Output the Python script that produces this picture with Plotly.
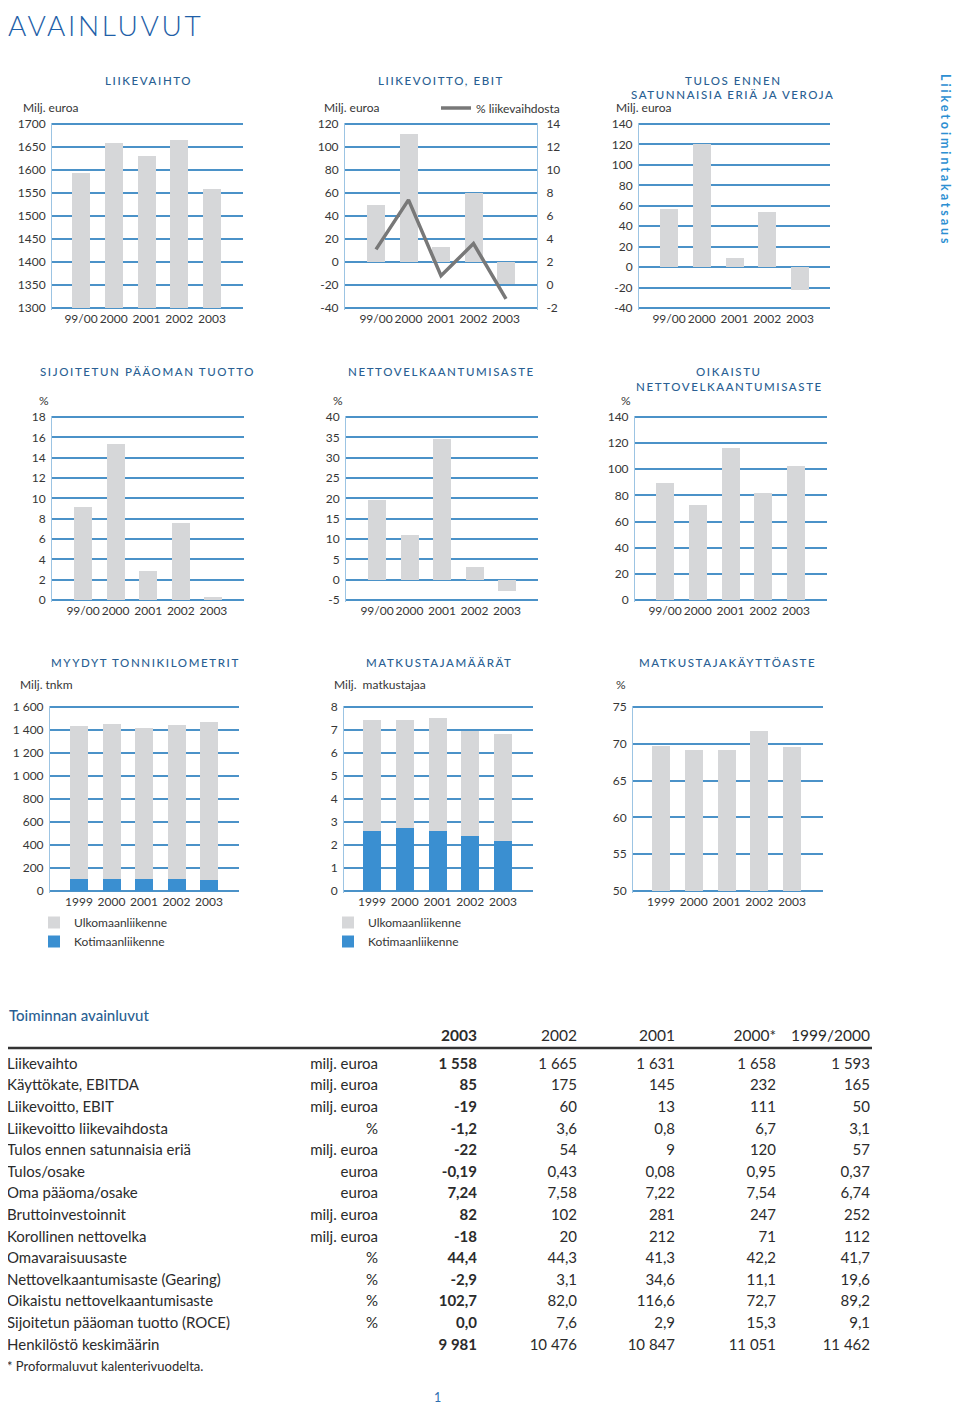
import plotly.graph_objects as go

# page is 960x1415; the browser body adds an 8px margin, so the figure is 16px smaller
OFF = 8
W, H = 960 - 2 * OFF, 1415 - 2 * OFF

# ---------------- data ----------------
cats_fy = ["99/00", "2000", "2001", "2002", "2003"]
cats_cy = ["1999", "2000", "2001", "2002", "2003"]

liikevaihto = [1593, 1658, 1631, 1665, 1558]
ebit = [50, 111, 13, 60, -19]
ebit_pct = [3.1, 7.4, 0.8, 3.6, -1.2]
tulos = [57, 120, 9, 54, -22]
roce = [9.1, 15.3, 2.9, 7.6, 0.3]
gearing = [19.6, 11.1, 34.6, 3.1, -2.9]
oik_gearing = [89.2, 72.7, 116.6, 82.0, 102.7]
tnkm_koti = [107, 107, 107, 107, 93]
tnkm_ulko = [1330, 1345, 1310, 1333, 1376]
matk_koti = [2.63, 2.73, 2.63, 2.37, 2.19]
matk_ulko = [4.80, 4.70, 4.90, 4.60, 4.63]
kayttoaste = [69.7, 69.1, 69.1, 71.7, 69.6]

ticks_lv = [1300, 1350, 1400, 1450, 1500, 1550, 1600, 1650, 1700]
ticks_lv_txt = ["1300", "1350", "1400", "1450", "1500", "1550", "1600", "1650", "1700"]
ticks_ebit = [-40, -20, 0, 20, 40, 60, 80, 100, 120]
ticks_ebit_pct = [-2, 0, 2, 4, 6, 8, 10, 12, 14]
ticks_tulos = [-40, -20, 0, 20, 40, 60, 80, 100, 120, 140]
ticks_roce = [0, 2, 4, 6, 8, 10, 12, 14, 16, 18]
ticks_gear = [-5, 0, 5, 10, 15, 20, 25, 30, 35, 40]
ticks_oik = [0, 20, 40, 60, 80, 100, 120, 140]
ticks_tnkm = [0, 200, 400, 600, 800, 1000, 1200, 1400, 1600]
ticks_tnkm_txt = ["0", "200", "400", "600", "800", "1 000", "1 200", "1 400", "1 600"]
ticks_matk = [0, 1, 2, 3, 4, 5, 6, 7, 8]
ticks_kaytto = [50, 55, 60, 65, 70, 75]

table_labels = ["Liikevaihto", "Käyttökate, EBITDA", "Liikevoitto, EBIT", "Liikevoitto liikevaihdosta",
                "Tulos ennen satunnaisia eriä", "Tulos/osake", "Oma pääoma/osake", "Bruttoinvestoinnit",
                "Korollinen nettovelka", "Omavaraisuusaste", "Nettovelkaantumisaste (Gearing)",
                "Oikaistu nettovelkaantumisaste", "Sijoitetun pääoman tuotto (ROCE)", "Henkilöstö keskimäärin"]
table_units = ["milj. euroa", "milj. euroa", "milj. euroa", "%", "milj. euroa", "euroa", "euroa",
               "milj. euroa", "milj. euroa", "%", "%", "%", "%", ""]
table_years = ["2003", "2002", "2001", "2000*", "1999/2000"]
col_2003 = ["1 558", "85", "-19", "-1,2", "-22", "-0,19", "7,24", "82", "-18", "44,4", "-2,9", "102,7", "0,0", "9 981"]
col_2002 = ["1 665", "175", "60", "3,6", "54", "0,43", "7,58", "102", "20", "44,3", "3,1", "82,0", "7,6", "10 476"]
col_2001 = ["1 631", "145", "13", "0,8", "9", "0,08", "7,22", "281", "212", "41,3", "34,6", "116,6", "2,9", "10 847"]
col_2000 = ["1 658", "232", "111", "6,7", "120", "0,95", "7,54", "247", "71", "42,2", "11,1", "72,7", "15,3", "11 051"]
col_1999 = ["1 593", "165", "50", "3,1", "57", "0,37", "6,74", "252", "112", "41,7", "19,6", "89,2", "9,1", "11 462"]

# ---------------- styles ----------------
FONT = "Lato"
TXT = "#363636"
TITLE_BLUE = "#2a5f93"
GRID_BLUE = "#4b92c8"
AXIS_BLUE = "#9cc4e3"
GREY = "#d6d7d9"
BLUE_BAR = "#3a8fd1"
LINE_GREY = "#787878"


def pxx(x):
    return (x - OFF) / W


def pxy(y):
    return 1 - (y - OFF) / H


# chart frames in page pixels: left, right, top, bottom, first bar centre, bar spacing
frames = [
    dict(L=52, R=243, T=124, B=308, c0=81, s=32.75),
    dict(L=345, R=537, T=124, B=308, c0=376, s=32.5),
    dict(L=639, R=830, T=124, B=308, c0=669, s=32.75),
    dict(L=52, R=244, T=417, B=600, c0=83, s=32.6),
    dict(L=346, R=538, T=417, B=600, c0=377, s=32.5),
    dict(L=635, R=827, T=417, B=600, c0=665, s=32.75),
    dict(L=50, R=239, T=707, B=891, c0=79, s=32.5),
    dict(L=344, R=533, T=707, B=891, c0=372, s=32.75),
    dict(L=633, R=823, T=707, B=891, c0=661, s=32.75),
]
BAR_W_PX = 18

fig = go.Figure()
layout = dict(
    width=W, height=H, autosize=False,
    margin=dict(l=0, r=0, t=0, b=0, pad=0, autoexpand=False),
    paper_bgcolor="white", plot_bgcolor="white",
    barmode="stack", showlegend=True,
    font=dict(family=FONT, color=TXT, size=12),
    annotations=[], shapes=[],
)


def yrange_dom(T, B, lo, hi):
    per_px = (hi - lo) / (B - T)
    pad = 1.5
    rng = [lo - pad * per_px, hi + pad * per_px]
    dom = [pxy(B + pad), pxy(T - pad)]
    return rng, dom


def setup_axes(i, cats, ticks, ticktext=None):
    f = frames[i - 1]
    xr = [(f["L"] - f["c0"]) / f["s"], (f["R"] - f["c0"]) / f["s"]]
    rng, dom = yrange_dom(f["T"], f["B"], ticks[0], ticks[-1])
    sfx = "" if i == 1 else str(i)
    layout["xaxis" + sfx] = dict(
        domain=[pxx(f["L"]), pxx(f["R"])], range=xr, type="category",
        categoryorder="array", categoryarray=cats, automargin=False, tickangle=0,
        anchor="y" + sfx, showgrid=False, zeroline=False, showline=False,
        ticks="", tickfont=dict(size=12, color=TXT, family=FONT), fixedrange=True,
    )
    layout["yaxis" + sfx] = dict(
        domain=dom, range=rng, anchor="x" + sfx, automargin=False,
        tickvals=ticks, ticktext=ticktext if ticktext else [str(t) for t in ticks],
        showgrid=True, gridcolor=GRID_BLUE, gridwidth=2, zeroline=False,
        showline=True, linecolor=AXIS_BLUE, linewidth=1, ticks="",
        tickfont=dict(size=12, color=TXT, family=FONT), fixedrange=True,
        ticklabelstandoff=3,
    )
    return f


def bar_width(i):
    return BAR_W_PX / frames[i - 1]["s"]


def add_bar(i, cats, vals, color=GREY, name=None, legend=None, base=None):
    sfx = "" if i == 1 else str(i)
    fig.add_trace(go.Bar(
        x=cats, y=vals, base=base, xaxis="x" + sfx, yaxis="y" + sfx,
        marker=dict(color=color, line=dict(width=0)), width=bar_width(i),
        name=name or "", showlegend=legend is not None,
        legend=legend if legend else "legend", hoverinfo="x+y",
    ))


# 1 Liikevaihto (bars start from the axis minimum)
setup_axes(1, cats_fy, ticks_lv, ticks_lv_txt)
add_bar(1, cats_fy, [v - ticks_lv[0] for v in liikevaihto], base=[ticks_lv[0]] * 5)
# 2 Liikevoitto EBIT
f2 = setup_axes(2, cats_fy, ticks_ebit)
add_bar(2, cats_fy, ebit)
rng2, dom2 = yrange_dom(f2["T"], f2["B"], ticks_ebit_pct[0], ticks_ebit_pct[-1])
layout["yaxis10"] = dict(
    domain=dom2, range=rng2, overlaying="y2", anchor="x2", side="right", automargin=False,
    tickvals=ticks_ebit_pct, ticktext=[str(t) for t in ticks_ebit_pct],
    showgrid=False, zeroline=False, showline=True, linecolor=AXIS_BLUE, linewidth=1,
    ticks="", tickfont=dict(size=12, color=TXT, family=FONT), fixedrange=True,
    ticklabelstandoff=6,
)
fig.add_trace(go.Scatter(
    x=cats_fy, y=ebit_pct, xaxis="x2", yaxis="y10", mode="lines",
    line=dict(color=LINE_GREY, width=3.5), name="% liikevaihdosta",
    showlegend=True, legend="legend",
))
# 3 Tulos ennen satunnaisia eriä
setup_axes(3, cats_fy, ticks_tulos)
add_bar(3, cats_fy, tulos)
# 4 ROCE
setup_axes(4, cats_fy, ticks_roce)
add_bar(4, cats_fy, roce)
# 5 Nettovelkaantumisaste
setup_axes(5, cats_fy, ticks_gear)
add_bar(5, cats_fy, gearing)
# 6 Oikaistu
setup_axes(6, cats_fy, ticks_oik)
add_bar(6, cats_fy, oik_gearing)
# 7 Tonnikilometrit
setup_axes(7, cats_cy, ticks_tnkm, ticks_tnkm_txt)
add_bar(7, cats_cy, tnkm_koti, BLUE_BAR, "Kotimaanliikenne", "legend2")
add_bar(7, cats_cy, tnkm_ulko, GREY, "Ulkomaanliikenne", "legend2")
# 8 Matkustajamäärät
setup_axes(8, cats_cy, ticks_matk)
add_bar(8, cats_cy, matk_koti, BLUE_BAR, "Kotimaanliikenne", "legend3")
add_bar(8, cats_cy, matk_ulko, GREY, "Ulkomaanliikenne", "legend3")
# 9 Käyttöaste (bars start from the axis minimum)
setup_axes(9, cats_cy, ticks_kaytto)
add_bar(9, cats_cy, [v - ticks_kaytto[0] for v in kayttoaste], base=[ticks_kaytto[0]] * 5)

# legends
leg_common = dict(bgcolor="rgba(0,0,0,0)", borderwidth=0, font=dict(size=12, color=TXT, family=FONT),
                  xanchor="left", yanchor="middle", itemclick=False, itemdoubleclick=False)
layout["legend"] = dict(leg_common, x=pxx(436), y=pxy(108), orientation="h")
layout["legend2"] = dict(leg_common, x=pxx(34), y=pxy(932), orientation="v", tracegroupgap=0)
layout["legend3"] = dict(leg_common, x=pxx(328), y=pxy(932), orientation="v", tracegroupgap=0)


def ann(text, xp, yp, size=12, color=TXT, xanchor="left", weight="normal", angle=0, yanchor="middle"):
    layout["annotations"].append(dict(
        text=text, x=pxx(xp), y=pxy(yp), xref="paper", yref="paper",
        xanchor=xanchor, yanchor=yanchor, showarrow=False, textangle=angle,
        font=dict(size=size, color=color, family=FONT, weight=weight),
    ))


def spaced(t, sp=1.6):
    return '<span style="letter-spacing:%spx">%s</span>' % (sp, t)


# chart titles
titles = [
    ("LIIKEVAIHTO", 148, 80), ("LIIKEVOITTO, EBIT", 441, 80),
    ("TULOS ENNEN", 733, 80), ("SATUNNAISIA ERIÄ JA VEROJA", 733, 95),
    ("SIJOITETUN PÄÄOMAN TUOTTO", 147, 371), ("NETTOVELKAANTUMISASTE", 441, 371),
    ("OIKAISTU", 729, 371), ("NETTOVELKAANTUMISASTE", 729, 386),
    ("MYYDYT TONNIKILOMETRIT", 145, 662), ("MATKUSTAJAMÄÄRÄT", 439, 662),
    ("MATKUSTAJAKÄYTTÖASTE", 727, 662),
]
for t, xp, yp in titles:
    ann(spaced(t), xp, yp, size=11.5, color=TITLE_BLUE, xanchor="center", weight=500)

# unit labels
units = [("Milj. euroa", 21, 108), ("Milj. euroa", 322, 108), ("Milj. euroa", 614, 108),
         ("%", 37, 400), ("%", 331, 400), ("%", 619, 400),
         ("Milj. tnkm", 18, 685), ("Milj.  matkustajaa", 332, 685), ("%", 614, 685)]
for t, xp, yp in units:
    ann(t, xp, yp, size=12)

# page title / side text / page number
ann(spaced("AVAINLUVUT", 2.6), 6, 25, size=28, color="#1f5fa8", weight=300)
ann(spaced("Liiketoimintakatsaus", 2.9), 946, 160, size=12.5, color="#2d8fd2", xanchor="center",
    weight="bold", angle=90)
ann("1", 437, 1397, size=12.5, color="#2d6fb0", xanchor="center")
ann("Toiminnan avainluvut", 7, 1015, size=15, color=TITLE_BLUE, weight=500)

# ---------------- table (x in page pixels, y in row units) ----------------
TROW0, TSTEP = 1065, 21.6
ylo, yhi = -2.5, 14.5
layout["xaxis11"] = dict(domain=[0, 1], range=[OFF, OFF + W], visible=False, anchor="y11",
                         fixedrange=True, automargin=False)
layout["yaxis11"] = dict(domain=[pxy(TROW0 + TSTEP * yhi), pxy(TROW0 + TSTEP * ylo)],
                         range=[yhi, ylo], visible=False, anchor="x11", fixedrange=True, automargin=False)
rows = list(range(len(table_labels)))
TFS = 15


def text_col(texts, ypos, xpos, pos, bold=False, size=TFS):
    fig.add_trace(go.Scatter(
        x=[xpos] * len(texts), y=ypos, text=texts, mode="text", textposition=pos,
        textfont=dict(size=size, color="#2b2b2b", family=FONT, weight="bold" if bold else "normal"),
        xaxis="x11", yaxis="y11", showlegend=False, hoverinfo="skip",
    ))


col_left_label = 7
col_right = [378, 477, 577, 675, 776, 870]
text_col(table_labels, rows, col_left_label, "middle right")
text_col(table_units, rows, col_right[0], "middle left")
for ci, col in enumerate([col_2003, col_2002, col_2001, col_2000, col_1999]):
    text_col(col, rows, col_right[ci + 1], "middle left", bold=(ci == 0))
    text_col([table_years[ci]], [-1.3], col_right[ci + 1], "middle left", bold=(ci == 0), size=15.5)
text_col(["* Proformaluvut kalenterivuodelta."], [14], col_left_label, "middle right", size=13)

layout["shapes"].append(dict(type="line", xref="x11", yref="y11", x0=7, x1=872,
                             y0=(1048 - TROW0) / TSTEP, y1=(1048 - TROW0) / TSTEP,
                             line=dict(color="#333333", width=2.5)))

fig.update_layout(**layout)
fig.write_html("out.html")
